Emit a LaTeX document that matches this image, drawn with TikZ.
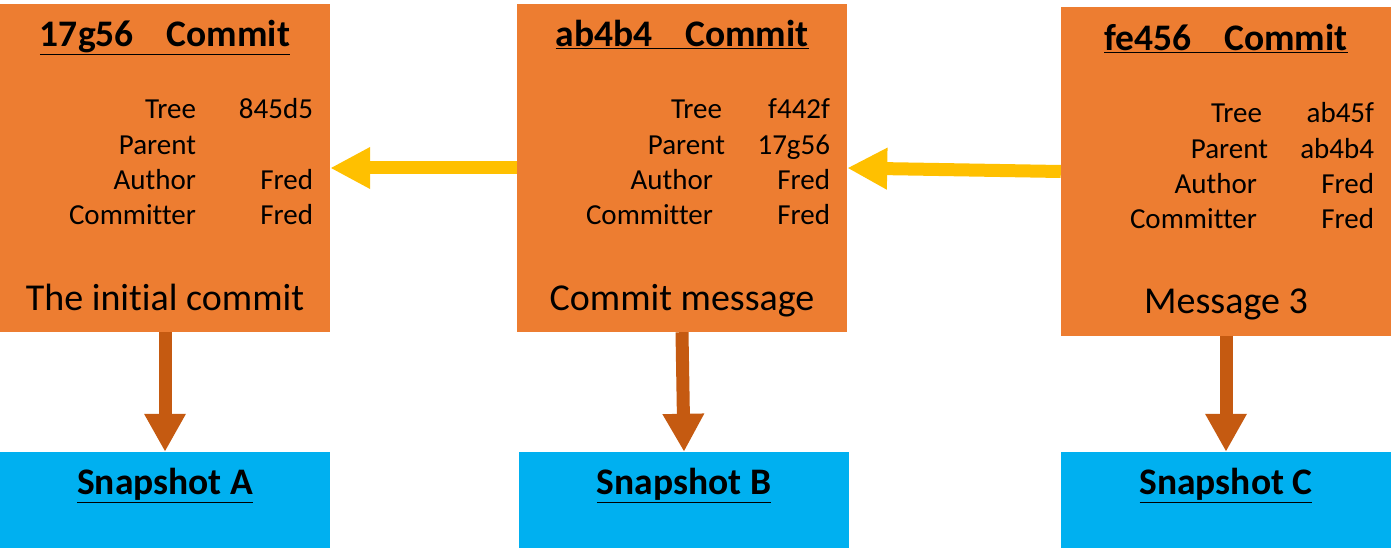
\documentclass[tikz,border=0pt]{standalone}
\usepackage{fontspec}
\setmainfont{Carlito}[Ligatures=NoCommon]
\usepackage{xcolor}
\usepackage{tikz}
\usetikzlibrary{
  arrows.meta
}

\definecolor{commitorange}{HTML}{ED7D31}
\definecolor{snapcyan}{HTML}{00B0F0}
\definecolor{parentyellow}{HTML}{FFC000}
\definecolor{treebrown}{HTML}{C55A11}

\begin{document}
\begin{tikzpicture}[%詳細設定
        x=1pt,y=-1pt,
        commit/.style={
            rectangle,
            fill=commitorange,
            minimum width=330pt,
            minimum height=328pt,
            inner sep=0pt
          },snapshot/.style={
            rectangle,
            fill=snapcyan,
            minimum width=330pt,
            minimum height=96pt,
            inner sep=0pt
          },commithead/.style={
            anchor=base,
            inner sep=0pt,
            font=\fontsize{37.5}{42}\selectfont\bfseries
          },fieldname/.style={
            anchor=base east,
            inner sep=0pt,
            font=\fontsize{29}{33}\selectfont
          },fieldvalue/.style={
            fieldname
          },commitmsg/.style={
            anchor=base,
            inner sep=0pt,
            font=\fontsize{38}{42}\selectfont
          },parentarrow/.style={
            draw=parentyellow,
            line width=13pt,
            -{Triangle[length=40pt,width=39pt]}
          },treearrow/.style={
            draw=treebrown,
            line width=13pt,
            -{Triangle[length=38pt,width=39pt]}
          }
      ]

      % 範囲
      \useasboundingbox (0,0) rectangle (1394,548);

      % コミットの描画
      \node[commit] (c1) at (165,168) {};
      \node[commit] (c2) at (682,168) {};
      \node[commit] (c3) at (1226,171.5) {};

      % スナップショットの描画
      \node[snapshot] (s1) at (165,500) {};
      \node[snapshot] (s2) at (684,500) {};
      \node[snapshot] (s3) at (1226,500) {};

      % コミット 17g56
      \node[commithead] (c1head) at ([yshift=-43pt]c1.north) {\underline{17g56\hspace{33pt}Commit}};
      \node[fieldname] (c1tree) at ([xshift=-134pt,yshift=-115pt]c1.north east) {Tree};
      \node[fieldname] (c1parent) at ([xshift=-134pt,yshift=-151pt]c1.north east) {Parent};
      \node[fieldname] (c1author) at ([xshift=-134pt,yshift=-186pt]c1.north east) {Author};
      \node[fieldname] (c1committer) at ([xshift=-134pt,yshift=-221pt]c1.north east) {Committer};
      \node[fieldvalue] (c1treev) at ([xshift=-17pt,yshift=-115pt]c1.north east) {845d5};
      \node[fieldvalue] (c1authorv) at ([xshift=-17pt,yshift=-186pt]c1.north east) {Fred};
      \node[fieldvalue] (c1committerv) at ([xshift=-17pt,yshift=-221pt]c1.north east) {Fred};
      \node[commitmsg] (c1msg) at ([yshift=-307pt]c1.north) {The initial commit};

      % コミット ab4b4
      \node[commithead] (c2head) at ([yshift=-43pt]c2.north) {\underline{ab4b4\hspace{33pt}Commit}};
      \node[fieldname] (c2tree) at ([xshift=-125pt,yshift=-115pt]c2.north east) {Tree};
      \node[fieldname] (c2parent) at ([xshift=-122pt,yshift=-151pt]c2.north east) {Parent};
      \node[fieldname] (c2author) at ([xshift=-134pt,yshift=-186pt]c2.north east) {Author};
      \node[fieldname] (c2committer) at ([xshift=-134pt,yshift=-221pt]c2.north east) {Committer};
      \node[fieldvalue] (c2treev) at ([xshift=-17pt,yshift=-115pt]c2.north east) {f442f};
      \node[fieldvalue] (c2parentv) at ([xshift=-17pt,yshift=-151pt]c2.north east) {17g56};
      \node[fieldvalue] (c2authorv) at ([xshift=-17pt,yshift=-186pt]c2.north east) {Fred};
      \node[fieldvalue] (c2committerv) at ([xshift=-17pt,yshift=-221pt]c2.north east) {Fred};
      \node[commitmsg] (c2msg) at ([yshift=-307pt]c2.north) {Commit message};

      % コミット fe456
      \node[commithead] (c3head) at ([yshift=-43pt]c3.north) {\underline{fe456\hspace{33pt}Commit}};
      \node[fieldname] (c3tree) at ([xshift=-129pt,yshift=-115pt]c3.north east) {Tree};
      \node[fieldname] (c3parent) at ([xshift=-123pt,yshift=-151pt]c3.north east) {Parent};
      \node[fieldname] (c3author) at ([xshift=-134pt,yshift=-186pt]c3.north east) {Author};
      \node[fieldname] (c3committer) at ([xshift=-134pt,yshift=-221pt]c3.north east) {Committer};
      \node[fieldvalue] (c3treev) at ([xshift=-17pt,yshift=-115pt]c3.north east) {ab45f};
      \node[fieldvalue] (c3parentv) at ([xshift=-17pt,yshift=-151pt]c3.north east) {ab4b4};
      \node[fieldvalue] (c3authorv) at ([xshift=-17pt,yshift=-186pt]c3.north east) {Fred};
      \node[fieldvalue] (c3committerv) at ([xshift=-17pt,yshift=-221pt]c3.north east) {Fred};
      \node[commitmsg] (c3msg) at ([yshift=-306pt]c3.north) {Message 3};

      % スナップショットの文字
      \node[commithead] (s1head) at ([yshift=-43pt]s1.north) {\underline{Snapshot A}};
      \node[commithead] (s2head) at ([yshift=-43pt]s2.north) {\underline{Snapshot B}};
      \node[commithead] (s3head) at ([yshift=-43pt]s3.north) {\underline{Snapshot C}};

      % 親への矢印
      \draw[parentarrow] (c2.west) -- (c1.east);
      \draw[parentarrow] (c3.west) -- (c2.east);

      % ツリーへの矢印
      \draw[treearrow] (c1.south) -- (s1.north);
      \draw[treearrow] (c2.south) -- (s2.north);
      \draw[treearrow] (c3.south) -- (s3.north);

    \end{tikzpicture}
\end{document}
